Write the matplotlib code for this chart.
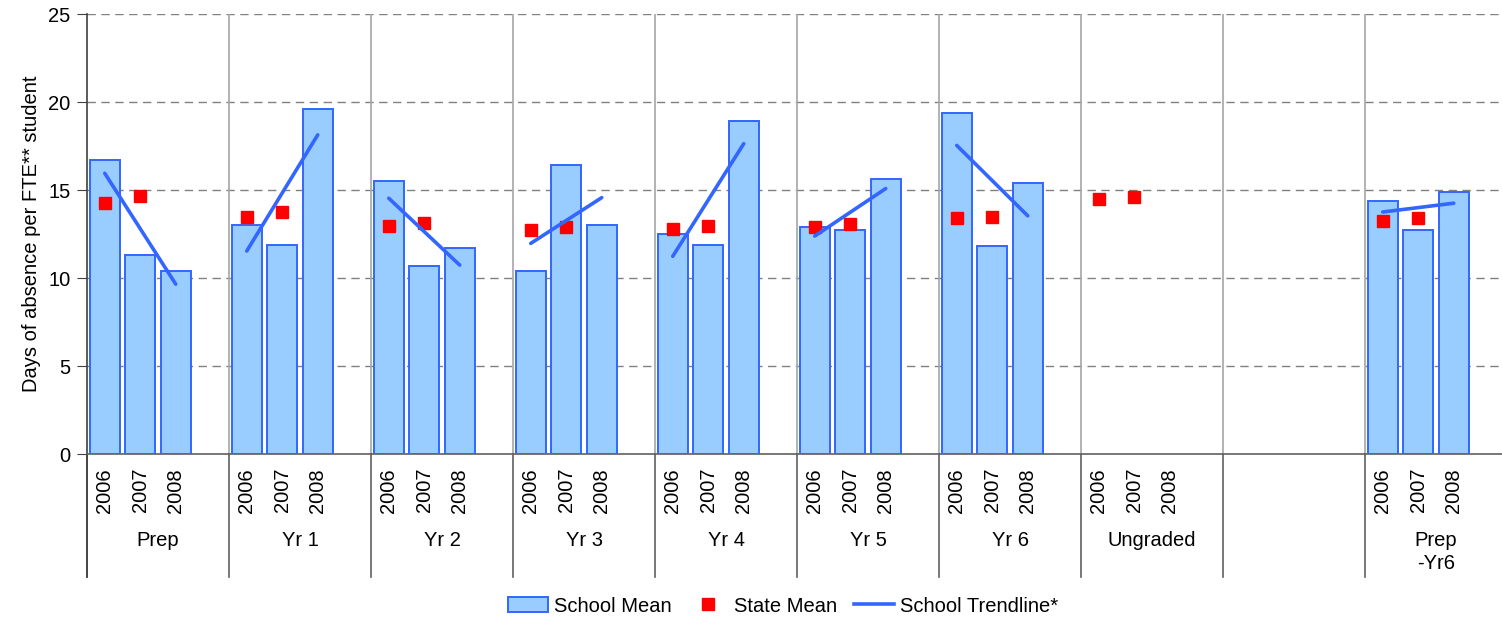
import numpy as np
import matplotlib.pyplot as plt
from matplotlib.patches import Patch
from matplotlib.lines import Line2D

plt.rcParams['font.family'] = ['Liberation Sans', 'DejaVu Sans']

groups = ['Prep', 'Yr 1', 'Yr 2', 'Yr 3', 'Yr 4', 'Yr 5', 'Yr 6', 'Ungraded', '', 'Prep\n-Yr6']
years = ['2006', '2007', '2008']
has_years = [True, True, True, True, True, True, True, True, False, True]

school_mean = [
	[16.7, 11.3, 10.4],
	[13.0, 11.9, 19.6],
	[15.5, 10.7, 11.7],
	[10.4, 16.4, 13.0],
	[12.5, 11.9, 18.9],
	[12.9, 12.7, 15.6],
	[19.4, 11.8, 15.4],
	[np.nan, np.nan, np.nan],
	[np.nan, np.nan, np.nan],
	[14.4, 12.7, 14.9],
]
state_mean = [
	[14.25, 14.65],
	[13.45, 13.75],
	[12.95, 13.1],
	[12.7, 12.9],
	[12.8, 12.95],
	[12.9, 13.05],
	[13.4, 13.45],
	[14.5, 14.6],
	[np.nan, np.nan],
	[13.25, 13.4],
]

W, H = 1502, 617
FS = 14.5
fig = plt.figure(figsize=(W / 100, H / 100), dpi=100)
ax = fig.add_axes([87 / W, (H - 454) / H, 1420 / W, 440 / H])

bar_face = '#99CCFF'
bar_edge = '#3366FF'
n = len(groups)

# bars, state markers, trendlines
for i in range(n):
	xs = np.arange(3) + 4 * i
	vals = np.array(school_mean[i])
	ax.bar(xs, vals, width=0.85, color=bar_face, edgecolor=bar_edge, linewidth=1.4, zorder=3)
	ax.plot(xs[:2], state_mean[i], 's', color='#FF0000', markersize=8, zorder=5, linestyle='none')
	if not np.isnan(vals).any():
		k, b = np.polyfit(np.arange(3), vals, 1)
		t = np.array([0, 2])
		ax.plot(xs[[0, 2]], k * t + b, color='#3366FF', linewidth=2.6, zorder=6, solid_capstyle='round')

ax.set_xlim(-0.5, 4 * n - 0.5)
ax.set_ylim(0, 25)
ax.set_yticks([0, 5, 10, 15, 20, 25])
for yv in [5, 10, 15, 20, 25]:
	ax.axhline(yv, color='#808080', linewidth=1, linestyle=(0, (6, 4)), zorder=1)

# year tick labels
tick_pos = []
tick_lab = []
for i in range(n):
	if has_years[i]:
		for j, yr in enumerate(years):
			tick_pos.append(4 * i + j)
			tick_lab.append(yr)
ax.set_xticks(tick_pos)
ax.set_xticklabels(tick_lab, rotation=90, fontsize=FS)
ax.tick_params(axis='x', length=0, pad=10)
ax.tick_params(axis='y', labelsize=FS, length=7, color='#404040', direction='out', pad=5)

for s in ['top', 'right']:
	ax.spines[s].set_visible(False)
ax.spines['left'].set_visible(False)
ax.spines['bottom'].set_color('#606060')
ax.spines['bottom'].set_linewidth(1.2)

# group separators
trans = ax.get_xaxis_transform()
low = -(577 - 454) / 440
for i in range(n + 1):
	xb = 4 * i - 0.5
	if i > 0:
		ax.plot([xb, xb], [0, 1], color='#A6A6A6', linewidth=1.2, transform=trans, zorder=2)
	ax.plot([xb, xb], [low, 0], color='#606060', linewidth=1.2, transform=trans, clip_on=False)
ax.plot([-0.5, -0.5], [low, 1], color='#404040', linewidth=1.2, transform=trans, clip_on=False)

for i, g in enumerate(groups):
	ax.text(4 * i + 1.5, -(531 - 454) / 440, g, transform=trans, ha='center', va='top',
			fontsize=FS, linespacing=1.25)

ax.set_ylabel('Days of absence per FTE** student', fontsize=FS, labelpad=5)

handles = [
	Patch(facecolor=bar_face, edgecolor=bar_edge, linewidth=1.4, label='School Mean'),
	Line2D([], [], marker='s', color='#FF0000', linestyle='none', markersize=8, label='State Mean'),
	Line2D([], [], color='#3366FF', linewidth=2.6, label='School Trendline*'),
]
fig.legend(handles=handles, loc='center', bbox_to_anchor=(783 / W, (H - 606) / H), ncol=3,
		   frameon=False, fontsize=FS, handlelength=2.0, handletextpad=0.3, columnspacing=0.8)

fig.savefig('out.png', dpi=100)
